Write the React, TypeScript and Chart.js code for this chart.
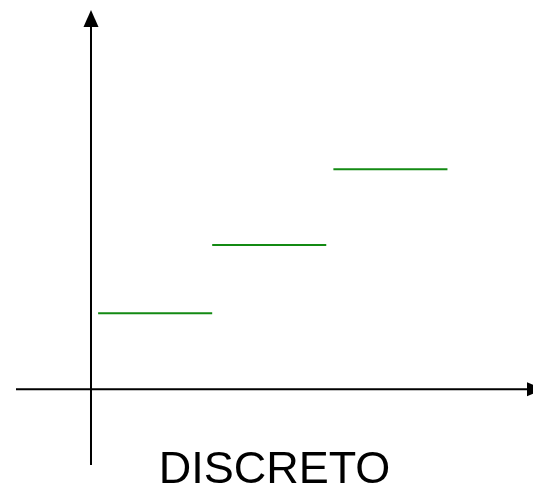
import React, { useEffect, useRef } from "react";
import { Chart, registerables } from "chart.js";

Chart.register(...registerables);

// Each step: where it starts, where it ends, and its constant value
const stepStarts = [0.25, 4.25, 8.5];
const stepEnds = [4.25, 8.25, 12.5];
const stepValues = [1.0, 1.9, 2.9];

const caption = "DISCRETO";

const axesPlugin = {
  id: "arrowAxes",
  beforeDatasetsDraw(chart: any) {
    const { ctx, chartArea, scales } = chart;
    const x0 = scales.x.getPixelForValue(0);
    const y0 = scales.y.getPixelForValue(0);
    ctx.save();
    ctx.strokeStyle = "#000";
    ctx.fillStyle = "#000";
    ctx.lineWidth = 2;

    // horizontal axis
    ctx.beginPath();
    ctx.moveTo(chartArea.left, y0);
    ctx.lineTo(chartArea.right - 4, y0);
    ctx.stroke();
    ctx.beginPath();
    ctx.moveTo(chartArea.right - 6, y0 - 7);
    ctx.lineTo(chartArea.right + 11, y0);
    ctx.lineTo(chartArea.right - 6, y0 + 7);
    ctx.closePath();
    ctx.fill();

    // vertical axis
    ctx.beginPath();
    ctx.moveTo(x0, chartArea.bottom);
    ctx.lineTo(x0, chartArea.top + 14);
    ctx.stroke();
    ctx.beginPath();
    ctx.moveTo(x0 - 7.5, chartArea.top + 17);
    ctx.lineTo(x0, chartArea.top);
    ctx.lineTo(x0 + 7.5, chartArea.top + 17);
    ctx.closePath();
    ctx.fill();

    // caption
    ctx.font = "45px 'Liberation Sans', Arial, sans-serif";
    ctx.textAlign = "center";
    ctx.textBaseline = "alphabetic";
    ctx.fillText(caption, (chartArea.left + chartArea.right) / 2, 483);
    ctx.restore();
  },
};

export default function App() {
  const canvasRef = useRef<HTMLCanvasElement | null>(null);

  useEffect(() => {
    if (!canvasRef.current) return;
    const datasets = stepValues.map((v, i) => ({
      data: [
        { x: stepStarts[i], y: v },
        { x: stepEnds[i], y: v },
      ],
      borderColor: "#138a13",
      borderWidth: 2,
      pointRadius: 0,
      fill: false,
    }));
    const chart = new Chart(canvasRef.current, {
      type: "line",
      data: { datasets },
      options: {
        animation: false,
        responsive: false,
        maintainAspectRatio: false,
        layout: { padding: { top: 10, bottom: 20, left: 16, right: 0 } },
        plugins: {
          legend: { display: false },
          tooltip: { enabled: false },
          title: { display: false },
        },
        scales: {
          x: { type: "linear", min: -2.63, max: 15.5, display: false },
          y: { type: "linear", min: -1, max: 5, display: false },
        },
      },
      plugins: [axesPlugin],
    });
    return () => chart.destroy();
  }, []);

  return (
    <div style={{ position: "absolute", left: 0, top: 0, width: 533, height: 485, background: "#fff" }}>
      <canvas ref={canvasRef} width={533} height={485} style={{ width: 533, height: 485 }} />
    </div>
  );
}
